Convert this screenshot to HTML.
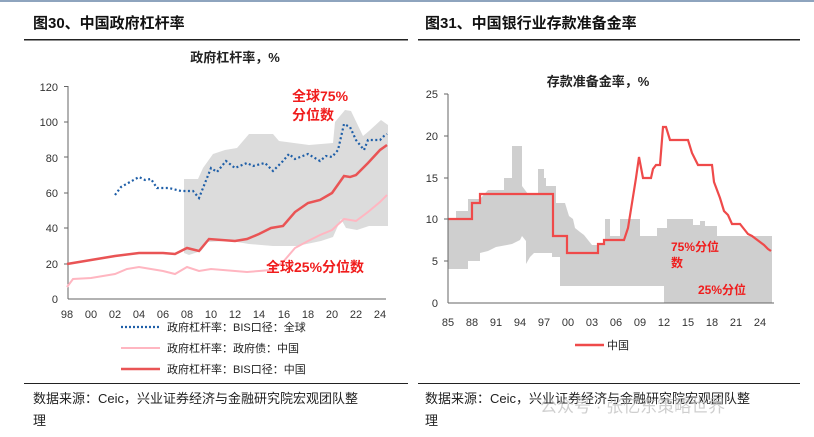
<!DOCTYPE html>
<html><head><meta charset="utf-8"><style>
body{margin:0;background:#fff;}
svg{display:block;font-family:"Liberation Sans","Noto Sans CJK SC",sans-serif;}
</style></head><body>
<svg width="814" height="437" viewBox="0 0 814 437" xmlns="http://www.w3.org/2000/svg">
<rect x="0" y="0" width="814" height="2" fill="#8ea4be"/>
<text x="33" y="28" font-size="15" font-weight="bold" fill="#111">图30、中国政府杠杆率</text>
<text x="425" y="28" font-size="15" font-weight="bold" fill="#111">图31、中国银行业存款准备金率</text>
<rect x="24" y="39" width="384" height="1.5" fill="#222"/>
<rect x="418" y="39" width="382" height="1.5" fill="#222"/>

<!-- LEFT CHART -->
<text x="235" y="62" font-size="13" font-weight="bold" text-anchor="middle" fill="#222">政府杠杆率，%</text>
<g font-size="11" fill="#333" text-anchor="end">
<text x="58" y="91">120</text><text x="58" y="126">100</text><text x="58" y="162">80</text><text x="58" y="197">60</text><text x="58" y="232">40</text><text x="58" y="268">20</text><text x="58" y="303">0</text>
</g>
<g stroke="#666" stroke-width="1">
<line x1="68" y1="86" x2="68" y2="299"/><line x1="68" y1="299" x2="386" y2="299"/>
<line x1="64" y1="86.5" x2="68" y2="86.5"/><line x1="64" y1="122" x2="68" y2="122"/><line x1="64" y1="157" x2="68" y2="157"/><line x1="64" y1="193" x2="68" y2="193"/><line x1="64" y1="228" x2="68" y2="228"/><line x1="64" y1="264" x2="68" y2="264"/>
</g>
<g font-size="11" fill="#333" text-anchor="middle">
<text x="67" y="318">98</text><text x="91" y="318">00</text><text x="115" y="318">02</text><text x="139" y="318">04</text><text x="163" y="318">06</text><text x="187" y="318">08</text><text x="211" y="318">10</text><text x="235" y="318">12</text><text x="259" y="318">14</text><text x="284" y="318">16</text><text x="308" y="318">18</text><text x="332" y="318">20</text><text x="356" y="318">22</text><text x="380" y="318">24</text>
</g>
<polygon fill="#dcdcdc" points="184,179 198,179 203,168 213,154 225,150 237,148 249,134 273,134 279,141 309,145 333,143 335,122 345,110 351,111 363,136 369,131 381,120 388,125 388,226 369,226 357,230 346,228 341,219 333,237 321,241 297,246 273,246 249,244 237,242 225,241 208,242 201,251 189,255 184,253"/>
<polyline fill="none" stroke="#ffb6c1" stroke-width="2" points="67,287 73,279 91,278 103,276 115,274 127,269 139,267 151,269 163,271 175,274 187,267 199,271 211,269 223,270 235,271 247,272 259,271 271,270 283,262 295,248 308,241 320,235 332,230 344,219 356,221 368,212 380,202 387,195"/>
<polyline fill="none" stroke="#e95455" stroke-width="2.5" points="67,264 91,260 115,256 139,253 163,253 175,254 187,248 199,251 209,239 235,241 247,239 259,234 271,228 283,226 295,212 308,203 320,200 332,193 344,176 350,177 356,175 368,163 380,150 387,145"/>
<polyline fill="none" stroke="#1f5fa8" stroke-width="2.2" stroke-dasharray="2,2.5" points="115,195 121,187 139,177 145,180 151,179 157,188 169,188 181,191 193,191 199,198 211,168 217,172 226,161 235,168 247,163 253,166 265,163 273,171 283,161 289,154 295,159 308,154 320,161 326,156 332,157 338,150 344,124 350,127 356,140 364,150 368,140 380,140 384,136 387,134"/>
<text x="292" y="101" font-size="14" font-weight="bold" fill="#f01c1c">全球75%</text>
<text x="292" y="120" font-size="14" font-weight="bold" fill="#f01c1c">分位数</text>
<text x="266" y="272" font-size="14" font-weight="bold" fill="#f01c1c">全球25%分位数</text>
<line x1="121" y1="327" x2="160" y2="327" stroke="#1f5fa8" stroke-width="2.2" stroke-dasharray="2,2"/>
<line x1="121" y1="348" x2="160" y2="348" stroke="#ffb6c1" stroke-width="2"/>
<line x1="121" y1="369" x2="160" y2="369" stroke="#e95455" stroke-width="2.5"/>
<g font-size="11" fill="#222">
<text x="167" y="331">政府杠杆率：BIS口径：全球</text>
<text x="167" y="352">政府杠杆率：政府债：中国</text>
<text x="167" y="373">政府杠杆率：BIS口径：中国</text>
</g>

<!-- RIGHT CHART -->
<text x="598" y="86" font-size="13" font-weight="bold" text-anchor="middle" fill="#222">存款准备金率，%</text>
<g font-size="11" fill="#333" text-anchor="end">
<text x="438" y="98">25</text><text x="438" y="140">20</text><text x="438" y="182">15</text><text x="438" y="223">10</text><text x="438" y="265">5</text><text x="438" y="307">0</text>
</g>
<polygon fill="#cfcfcf" points="448,219 456,219 456,211 468,211 468,199 480,199 488,190 504,190 504,178 512,178 512,146 522,146 522,186 528,194 538,194 538,169 544,169 544,178 546,178 546,186 556,186 556,203 565,203 569,216 573,219 575,228 580,232 584,235 592,245 605,245 605,219 610,219 610,236 620,236 620,219 640,219 640,236 657,236 657,228 667,228 667,219 693,219 693,225 700,225 700,221 705,221 705,226 717,226 717,236 772,236 772,228 772,303 664,303 664,286 560,286 560,257 552,257 552,253 544,253 534,253 530,257 526,264 526,241 522,236 520,240 512,244 496,247 488,251 480,253 480,261 468,261 468,269 448,269"/>
<polyline fill="none" stroke="#ef4a4a" stroke-width="2.2" points="448,219 472,219 472,203 480,203 480,194 553,194 553,236 567,236 567,253 598,253 598,244 604,244 604,240 624,240 628,228 632,203 636,178 639,157 643,178 651,178 653,169 656,165 660,165 663,127 666,127 670,140 688,140 692,153 696,161 698,165 712,165 714,182 720,198 724,211 728,215 732,224 740,224 744,229 748,234 752,236 756,239 760,242 764,245 768,249 771,251"/>
<g stroke="#666" stroke-width="1">
<line x1="448" y1="94" x2="448" y2="303"/><line x1="448" y1="303" x2="774" y2="303"/>
<line x1="444" y1="94" x2="448" y2="94"/><line x1="444" y1="136" x2="448" y2="136"/><line x1="444" y1="178" x2="448" y2="178"/><line x1="444" y1="219" x2="448" y2="219"/><line x1="444" y1="261" x2="448" y2="261"/>
</g>
<g font-size="11" fill="#333" text-anchor="middle">
<text x="448" y="326">85</text><text x="472" y="326">88</text><text x="496" y="326">91</text><text x="520" y="326">94</text><text x="544" y="326">97</text><text x="568" y="326">00</text><text x="592" y="326">03</text><text x="616" y="326">06</text><text x="640" y="326">09</text><text x="664" y="326">12</text><text x="688" y="326">15</text><text x="712" y="326">18</text><text x="736" y="326">21</text><text x="760" y="326">24</text>
</g>
<text x="671" y="251" font-size="12" font-weight="bold" fill="#f01c1c">75%分位</text>
<text x="671" y="267" font-size="12" font-weight="bold" fill="#f01c1c">数</text>
<text x="698" y="294" font-size="12" font-weight="bold" fill="#f01c1c">25%分位</text>
<line x1="575" y1="345" x2="604" y2="345" stroke="#ef4a4a" stroke-width="2.5"/>
<text x="607" y="349" font-size="11" fill="#222">中国</text>

<!-- SOURCES -->
<rect x="24" y="383" width="384" height="1" fill="#222"/>
<rect x="418" y="383" width="382" height="1" fill="#222"/>
<g font-size="13" fill="#222">
<text x="33" y="403">数据来源：Ceic，兴业证券经济与金融研究院宏观团队整</text>
<text x="33" y="425">理</text>
<text x="425" y="403">数据来源：Ceic，兴业证券经济与金融研究院宏观团队整</text>
<text x="425" y="425">理</text>
</g>
<text x="540" y="412" font-size="17" fill="#bbb" opacity="0.7">公众号 · 张忆东策略世界</text>
</svg>
</body></html>
